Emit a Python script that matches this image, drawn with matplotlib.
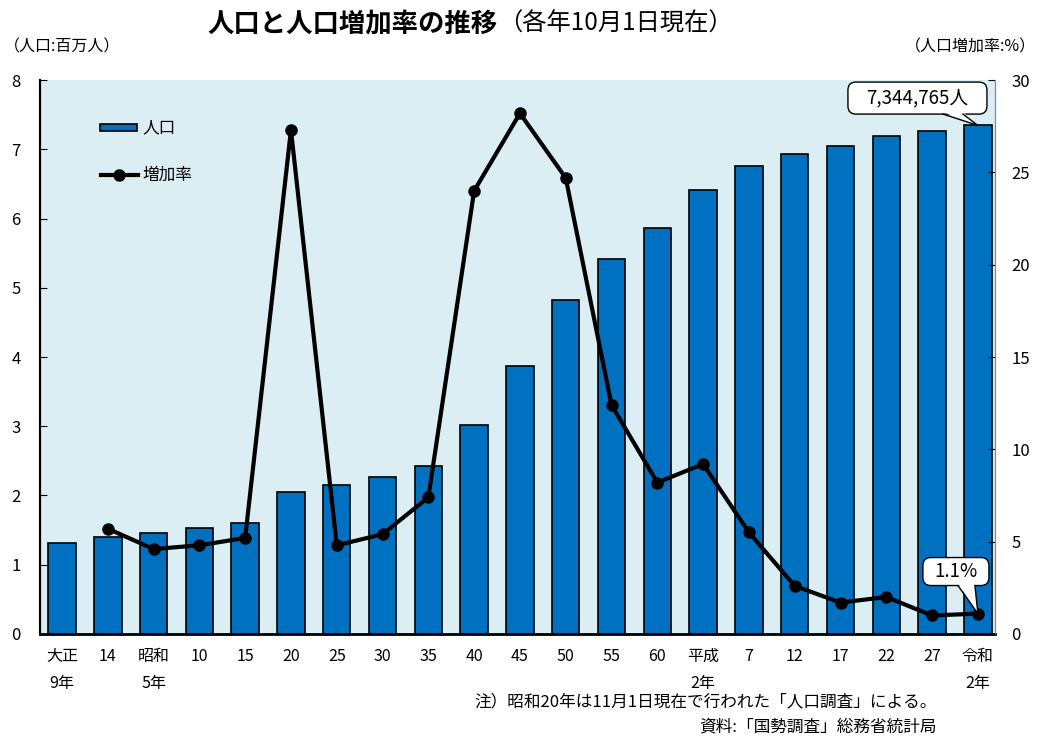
import matplotlib
matplotlib.use("Agg")
import matplotlib.pyplot as plt
import numpy as np
from matplotlib.patches import FancyBboxPatch, Polygon
from matplotlib.transforms import ScaledTranslation

plt.rcParams['font.family'] = ['Noto Sans CJK JP', 'DejaVu Sans']

# 国勢調査年ごとの人口（百万人）と増加率（%）
years = ["大正\n9年", "14", "昭和\n5年", "10", "15", "20", "25", "30", "35", "40",
         "45", "50", "55", "60", "平成\n2年", "7", "12", "17", "22", "27", "令和\n2年"]
population = [1.319533, 1.394461, 1.459172, 1.528854, 1.608039, 2.047261, 2.146445,
              2.262623, 2.430871, 3.014983, 3.866472, 4.821340, 5.420480, 5.863678,
              6.405319, 6.759311, 6.938006, 7.054243, 7.194556, 7.266534, 7.344765]
growth = [None, 5.7, 4.6, 4.8, 5.2, 27.3, 4.8, 5.4, 7.4, 24.0, 28.2, 24.7, 12.4,
          8.2, 9.2, 5.5, 2.6, 1.7, 2.0, 1.0, 1.1]

bar_color = "#0070C0"
bg_color = "#DAEEF3"

fig = plt.figure(figsize=(10.39, 7.38), dpi=100)
ax = fig.add_axes([0.0385, 0.141, 0.919, 0.7505])
ax.set_facecolor(bg_color)

x = np.arange(len(years))
ax.bar(x, population, width=0.6, color=bar_color, edgecolor="black", linewidth=1.2,
       zorder=2)
ax.set_xlim(-0.48, 20.37)
ax.set_ylim(0, 8)
ax.set_yticks(range(0, 9))
ax.set_xticks(x)
ax.set_xticklabels(years, fontsize=11.5, linespacing=1.75, va="top")
ax.tick_params(axis="x", length=0, pad=10)
ax.tick_params(axis="y", direction="in", length=5, labelsize=12, pad=14)
ax.spines["top"].set_visible(False)
ax.spines["left"].set_linewidth(1.5)
ax.spines["bottom"].set_linewidth(2)
ax.spines["right"].set_color("#888888")

ax2 = ax.twinx()
ax2.set_ylim(0, 30)
ax2.set_yticks(range(0, 31, 5))
ax2.tick_params(axis="y", direction="in", length=5, labelsize=12, pad=12)
ax2.spines["top"].set_visible(False)
ax2.spines["right"].set_color("#888888")
gx = [i for i, g in enumerate(growth) if g is not None]
gy = [g for g in growth if g is not None]
ax2.plot(gx, gy, color="black", linewidth=3, marker="o", markersize=8, zorder=5)

# 凡例
ax.bar([1.23], [0.11], bottom=[7.26], width=0.8, color=bar_color, edgecolor="black",
       linewidth=1.2, zorder=3)
ax.text(1.75, 7.31, "人口", fontsize=12, va="center")
ax.plot([0.85, 1.65], [6.63, 6.63], color="black", linewidth=3, zorder=3)
ax.plot([1.25], [6.63], "o", color="black", markersize=8, zorder=3)
ax.text(1.75, 6.63, "増加率", fontsize=12, va="center")


def callout(axis, text, tip, center, w, h, base):
    # 吹き出し: 箱の大きさはインチ、中心と先端はデータ座標
    trans = fig.dpi_scale_trans + ScaledTranslation(center[0], center[1], axis.transData)
    tx, ty = axis.transData.transform(tip)
    cx, cy = axis.transData.transform(center)
    tip_in = ((tx - cx) / fig.dpi, (ty - cy) / fig.dpi)
    box = FancyBboxPatch((-w / 2, -h / 2), w, h,
                         boxstyle="round,pad=0,rounding_size=0.08",
                         fc="white", ec="black", lw=1, transform=trans, zorder=8)
    axis.add_patch(box)
    b0, b1 = base
    wedge = Polygon([(b0, -h / 2 + 0.02), tip_in, (b1, -h / 2 + 0.02)], closed=True,
                    fc="white", ec="none", transform=trans, zorder=9)
    axis.add_patch(wedge)
    axis.plot([b0, tip_in[0], b1], [-h / 2, tip_in[1], -h / 2], color="black", lw=1,
              transform=trans, zorder=9)
    axis.text(0, 0.005, text, fontsize=13.5, ha="center", va="center",
              transform=trans, zorder=10)


callout(ax, f"{population[-1] * 1e6:,.0f}人", (x[-1], population[-1]), (18.68, 7.74),
        1.39, 0.32, (0.255, 0.455))
callout(ax2, f"{growth[-1]}%", (x[-1], growth[-1]), (19.52, 3.38),
        0.66, 0.28, (0.02, 0.19))

fig.text(0.2, 0.968, "人口と人口増加率の推移", fontsize=19, fontweight="bold",
         va="center")
fig.text(0.479, 0.968, "（各年10月1日現在）", fontsize=17.5, va="center")
fig.text(0.004, 0.937, "（人口:百万人）", fontsize=11.5, va="center")
fig.text(0.997, 0.937, "（人口増加率:%）", fontsize=11.5, va="center", ha="right")

fig.text(0.902, 0.049, "注）昭和20年は11月1日現在で行われた「人口調査」による。",
         fontsize=12, ha="right", va="center")
fig.text(0.902, 0.015, "資料:「国勢調査」総務省統計局", fontsize=12, ha="right",
         va="center")

fig.savefig("out.png", dpi=100)
